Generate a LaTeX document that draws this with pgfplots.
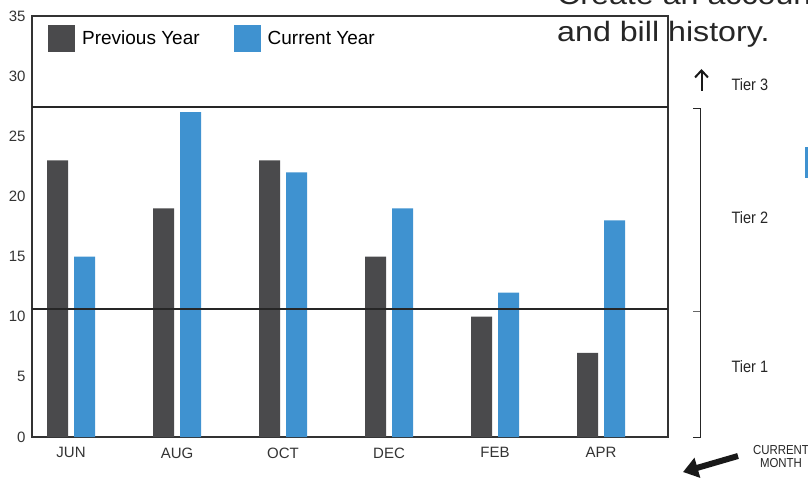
\documentclass[border=0pt]{standalone}
\usepackage{fontspec}
\setmainfont{Liberation Sans}
\newfontfamily\narrowfont[FakeStretch=0.88]{Liberation Sans}
\newfontfamily\widefont[FakeStretch=1.15]{Liberation Sans}
\usepackage{pgfplots}
\pgfplotsset{compat=1.18}
\usetikzlibrary{arrows.meta}
\definecolor{prevyear}{HTML}{4A4A4C}
\definecolor{curyear}{HTML}{3F92D0}
\definecolor{axisgray}{HTML}{333333}

\begin{document}
\begin{tikzpicture}
\begin{axis}[
    at={(32pt,-437pt)}, anchor=south west,
    scale only axis, width=636pt, height=421pt,
    xmin=-0.368, xmax=5.632, ymin=0, ymax=35,
    ybar=6pt, bar width=21pt,
    xtick={0,...,5}, xticklabels={JUN,AUG,OCT,DEC,FEB,APR},
    ytick={0,5,...,35},
    major tick length=0pt,
    tick label style={font=\fontsize{15}{17}\selectfont, text=axisgray},
    /pgf/number format/assume math mode=true,
    xticklabel style={yshift=-7pt},
    yticklabel style={xshift=-3pt},
    axis line style={axisgray, line width=1.3pt},
    legend style={at={(0.025,0.979)}, anchor=north west, draw=none, fill=none,
        font=\fontsize{19}{21}\selectfont, legend columns=2, inner sep=0pt,
        /tikz/every even column/.append style={column sep=32pt},
        /tikz/every odd column/.append style={column sep=5pt},
        cells={anchor=west}},
    legend image code/.code={\fill[#1,draw=none] (0pt,-13.5pt) rectangle (27pt,13.5pt);},
    clip=false,
]
\addplot[fill=prevyear, draw=none] coordinates {
    (0,23) (1,19) (2,23) (3,15) (4,10) (5,7)
};
\addplot[fill=curyear, draw=none] coordinates {
    (0,15) (1,27) (2,22) (3,19) (4,12) (5,18)
};
\legend{Previous Year, Current Year}
% tier limits
\draw[line width=2pt, black!85] (axis cs:-0.368,27.43) -- (axis cs:5.632,27.43);
\draw[line width=2pt, black!85] (axis cs:-0.368,10.63) -- (axis cs:5.632,10.63);
\end{axis}

% tier bracket and labels
\draw[black!85, line width=0.9pt] (693pt,-108pt) -- (700pt,-108pt) -- (700pt,-437pt) -- (693pt,-437pt);
\draw[black!60, line width=0.9pt] (693pt,-311pt) -- (700pt,-311pt);
\draw[black!90, line width=2pt, -{Straight Barb[length=7pt, width=13pt]}] (701.5pt,-91pt) -- (701.5pt,-69pt);
\node[anchor=west, font=\narrowfont\fontsize{16.5}{18}\selectfont, text=black!85] at (728pt,-85pt) {Tier 3};
\node[anchor=west, font=\narrowfont\fontsize{16.5}{18}\selectfont, text=black!85] at (728pt,-218pt) {Tier 2};
\node[anchor=west, font=\narrowfont\fontsize{16.5}{18}\selectfont, text=black!85] at (728pt,-367pt) {Tier 1};

% note at the top right
\node[anchor=base west, inner sep=0pt, font=\widefont\fontsize{28}{34}\selectfont, text=black!85] at (557pt,-5pt) {Create an account};
\node[anchor=base west, inner sep=0pt, font=\widefont\fontsize{28}{34}\selectfont, text=black!85] at (557pt,-42pt) {and bill history.};
\fill[curyear] (805pt,-147pt) rectangle (812pt,-178pt);

% current month pointer
\node[align=center, font=\narrowfont\fontsize{13}{13}\selectfont, text=black!85] at (781pt,-457pt) {CURRENT\\MONTH};
\draw[line width=6pt, black!90, -{Triangle[length=15pt, width=20pt]}] (738pt,-456pt) -- (683pt,-472pt);

\pgfresetboundingbox
\path (0pt,0pt) rectangle (808pt,-481pt);
\end{tikzpicture}
\end{document}
